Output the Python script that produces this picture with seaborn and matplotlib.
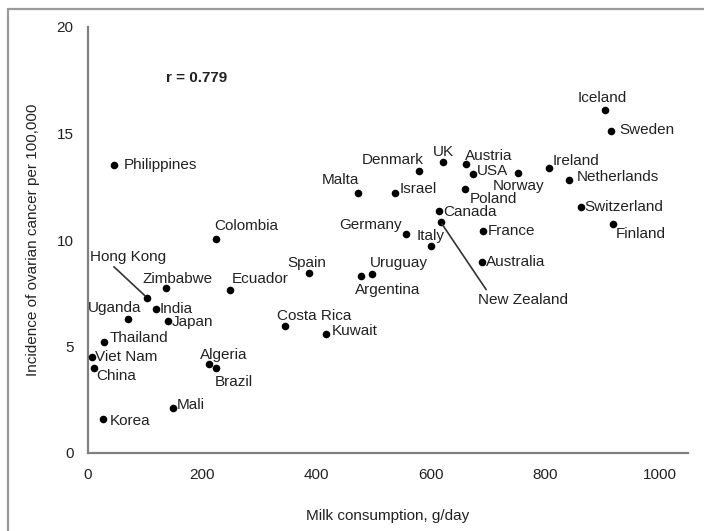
import numpy as np
import pandas as pd
import matplotlib
matplotlib.use("Agg")
import matplotlib.pyplot as plt
from matplotlib.lines import Line2D
import seaborn as sns

# --------------------------------------------------------------------------- #
# Data
# --------------------------------------------------------------------------- #
countries = ["Philippines", "Colombia", "Hong Kong", "Zimbabwe", "India", "Uganda",
             "Japan", "Thailand", "Viet Nam", "China", "Korea", "Mali", "Algeria",
             "Brazil", "Ecuador", "Spain", "Costa Rica", "Kuwait", "Uruguay",
             "Argentina", "Germany", "Italy", "Canada", "New Zealand", "France",
             "Australia", "Denmark", "UK", "Austria", "USA", "Norway", "Ireland",
             "Netherlands", "Malta", "Israel", "Poland", "Switzerland", "Finland",
             "Iceland", "Sweden"]
milk = [45, 224, 103, 136, 119, 70,
        140, 28, 7, 10, 26, 149, 212,
        224, 248, 387, 344, 417, 497,
        477, 556, 600, 614, 617, 692,
        690, 579, 621, 661, 673, 753, 806,
        841, 472, 537, 659, 862, 918,
        904, 916]
incidence = [13.5, 10.05, 7.3, 7.75, 6.76, 6.3,
             6.2, 5.2, 4.5, 4.0, 1.6, 2.1, 4.2,
             4.0, 7.65, 8.45, 5.96, 5.6, 8.4,
             8.3, 10.3, 9.7, 11.36, 10.85, 10.4,
             8.97, 13.25, 13.66, 13.56, 13.1, 13.15, 13.4,
             12.8, 12.2, 12.2, 12.4, 11.55, 10.75,
             16.1, 15.1]
r_text = "r = 0.779"
x_ticks = [0, 200, 400, 600, 800, 1000]
y_ticks = [0, 5, 10, 15, 20]

# label placement, in pixels from the dot (dx right, dy up)
label_offsets = {
    "Philippines": (10, 0), "Colombia": (-2, 13), "Hong Kong": (-57, 41),
    "Zimbabwe": (-23, 9), "India": (4, 0), "Uganda": (-40, 11), "Japan": (4, -1),
    "Thailand": (6, 4), "Viet Nam": (3, 0), "China": (3, -8), "Korea": (7, -2),
    "Mali": (4, 3), "Algeria": (-9, 9), "Brazil": (-1, -14), "Ecuador": (2, 11),
    "Spain": (-22, 10), "Costa Rica": (-8, 10), "Kuwait": (5, 3),
    "Uruguay": (-2, 11), "Argentina": (-6, -14), "Germany": (-66, 9),
    "Italy": (-14, 10), "Canada": (4, -1), "New Zealand": (37, -78),
    "France": (4, 0), "Australia": (4, 0), "Denmark": (-57, 11), "UK": (-10, 10),
    "Austria": (-1, 8), "USA": (4, 3), "Norway": (-26, -13), "Ireland": (4, 7),
    "Netherlands": (8, 3), "Malta": (-36, 13), "Israel": (5, 4),
    "Poland": (5, -10), "Switzerland": (4, 0), "Finland": (3, -10),
    "Iceland": (-27, 12), "Sweden": (8, 1),
}
# labels joined to their dot by a leader line: (relpos x, relpos y) on the text
leaders = {"Hong Kong": (0.27, 0.0), "New Zealand": (0.12, 1.0)}

df = pd.DataFrame({"country": countries, "milk": milk, "incidence": incidence})

# --------------------------------------------------------------------------- #
# Plot
# --------------------------------------------------------------------------- #
sns.set_theme(style="white")
plt.rcParams["font.family"] = ["Liberation Sans", "DejaVu Sans"]
text_col = "#222222"
spine_col = "#808080"

fig = plt.figure(figsize=(7.04, 5.31), dpi=100)
ax = fig.add_axes([88 / 704, 1 - 453 / 531, 600 / 704, 426 / 531])

sns.scatterplot(data=df, x="milk", y="incidence", ax=ax, color="black",
                s=30, edgecolor="black", linewidth=0, zorder=3)

for name, xv, yv in zip(countries, milk, incidence):
    dx, dy = label_offsets[name]
    kw = {}
    if name in leaders:
        kw["arrowprops"] = dict(arrowstyle="-", color="#333333", lw=1.2,
                                relpos=leaders[name], shrinkA=0, shrinkB=2)
    ax.annotate(name, (xv, yv), xytext=(dx, dy), textcoords="offset pixels",
                ha="left", va="center", fontsize=11, color=text_col, **kw)

ax.text(136, 17.6, r_text, fontsize=11, fontweight="bold", color=text_col,
        ha="left", va="center")

ax.set_xlim(0, 1050)
ax.set_ylim(0, 20)
ax.set_xticks(x_ticks)
ax.set_yticks(y_ticks)
ax.tick_params(axis="both", direction="inout", length=5, width=1.2,
               color=spine_col, labelsize=11, labelcolor=text_col, pad=8)
ax.set_xlabel("Milk consumption, g/day", fontsize=11, color=text_col, labelpad=20)
ax.set_ylabel("Incidence of ovarian cancer per 100,000", fontsize=11,
              color=text_col, labelpad=12)

sns.despine(ax=ax)
for side in ("left", "bottom"):
    ax.spines[side].set_color(spine_col)
    ax.spines[side].set_linewidth(1.6)

# grey frame on the top and left of the picture
fig.add_artist(Line2D([8 / 704, 8 / 704], [0, 1 - 9 / 531], color="#9a9a9a",
                      lw=1.6, transform=fig.transFigure))
fig.add_artist(Line2D([8 / 704, 1], [1 - 9 / 531, 1 - 9 / 531], color="#9a9a9a",
                      lw=1.6, transform=fig.transFigure))

fig.savefig("out.png", dpi=100)
